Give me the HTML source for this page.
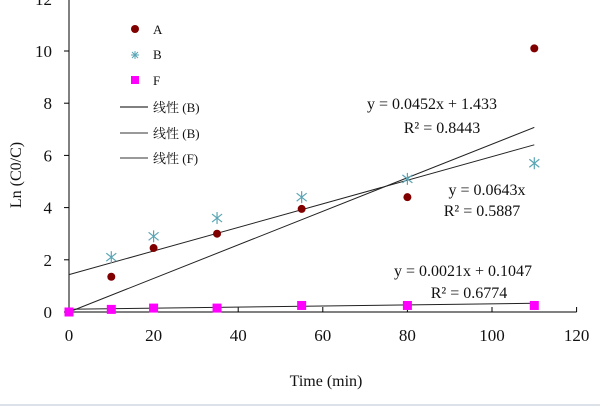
<!DOCTYPE html>
<html><head><meta charset="utf-8"><style>
body{margin:0;background:#fff}
svg text{font-family:"Liberation Serif","Noto Serif CJK SC",serif;fill:#111}
</style></head><body>
<svg width="600" height="411" viewBox="0 0 600 411">
<g id="axes"></g><g id="lines"></g><g id="marks"></g>
<g font-size="13">
<circle cx="135" cy="29" r="4" fill="#800000"/><text x="153" y="34">A</text>
<g stroke="#5aa5b5" stroke-width="1"><line x1="131" y1="55" x2="139" y2="55"/><line x1="135" y1="51" x2="135" y2="59"/><line x1="132" y1="52" x2="138" y2="58"/><line x1="138" y1="52" x2="132" y2="58"/></g><text x="153" y="59">B</text>
<rect x="131" y="76" width="8" height="8" fill="#ff00ff"/><text x="153" y="85">F</text>
<line x1="120" y1="107" x2="148" y2="107" stroke="#000"/><text x="153" y="112">线性 (B)</text>
<line x1="120" y1="133" x2="148" y2="133" stroke="#333"/><text x="153" y="138">线性 (B)</text>
<line x1="120" y1="158" x2="148" y2="158" stroke="#333"/><text x="153" y="163">线性 (F)</text>
</g>
<g font-size="16">
<text x="432" y="109" text-anchor="middle">y = 0.0452x + 1.433</text>
<text x="442" y="133" text-anchor="middle">R² = 0.8443</text>
<text x="487" y="195" text-anchor="middle">y = 0.0643x</text>
<text x="482" y="216" text-anchor="middle">R² = 0.5887</text>
<text x="463" y="276" text-anchor="middle">y = 0.0021x + 0.1047</text>
<text x="469" y="298" text-anchor="middle">R² = 0.6774</text>
</g>
<text x="326" y="386" font-size="16" text-anchor="middle">Time (min)</text>
<text transform="translate(21,175) rotate(-90)" font-size="16" text-anchor="middle">Ln (C0/C)</text>
<line x1="0" y1="405" x2="600" y2="405" stroke="#dde2ea" stroke-width="2"/>
</svg>
<script>
const xTicks=[0,20,40,60,80,100,120];
const yTicks=[0,2,4,6,8,10,12];
const times=[0,10,20,35,55,80,110];
const seriesA=[0,1.35,2.45,3.0,3.95,4.4,10.1];
const seriesB=[0,2.1,2.9,3.6,4.4,5.1,5.7];
const seriesF=[0,0.1,0.15,0.15,0.25,0.25,0.25];
const fitSlopes=[0.0452,0.0643,0.0021];
const fitIntercepts=[1.433,0,0.1047];
const NS='http://www.w3.org/2000/svg';
const X=v=>69+v*4.23, Y=v=>312-v*26.1;
function mk(t,a,p){const e=document.createElementNS(NS,t);for(const k in a)e.setAttribute(k,a[k]);p.appendChild(e);return e;}
const ax=document.getElementById('axes'),ln=document.getElementById('lines'),mr=document.getElementById('marks');
let e=mk('line',{x1:X(0),y1:Y(0),x2:X(120),y2:Y(0),stroke:'#000'},ax);

e=mk('line',{x1:X(0),y1:Y(0),x2:X(0),y2:0,stroke:'#000'},ax);

xTicks.forEach(v=>{mk('line',{x1:X(v),y1:Y(0),x2:X(v),y2:Y(0)-5,stroke:'#000'},ax);
const t=mk('text',{x:X(v),y:341,'font-size':17,'text-anchor':'middle'},ax);t.textContent=v;
});
yTicks.forEach(v=>{mk('line',{x1:X(0)-5,y1:Y(v),x2:X(0),y2:Y(v),stroke:'#000'},ax);
const t=mk('text',{x:52,y:Y(v)+6,'font-size':17,'text-anchor':'end'},ax);t.textContent=v;
});
fitSlopes.forEach((m,i)=>{const b=fitIntercepts[i];
const l=mk('line',{x1:X(0),y1:Y(b),x2:X(110),y2:Y(b+m*110),stroke:'#222','stroke-width':1},ln);
});
times.forEach((t,i)=>{
const c=mk('circle',{cx:X(t),cy:Y(seriesA[i]),r:4,fill:'#800000'},mr);

if(i>0){const g=mk('g',{stroke:'#5aa5b5','stroke-width':1.2},mr);

const x=X(t),y=Y(seriesB[i]);
mk('line',{x1:x,y1:y-6,x2:x,y2:y+6},g);mk('line',{x1:x-5,y1:y-4,x2:x+5,y2:y+4},g);mk('line',{x1:x+5,y1:y-4,x2:x-5,y2:y+4},g);}
const r=mk('rect',{x:X(t)-4.5,y:Y(seriesF[i])-4.5,width:9,height:9,fill:'#ff00ff'},mr);

});
</script>
</body></html>
